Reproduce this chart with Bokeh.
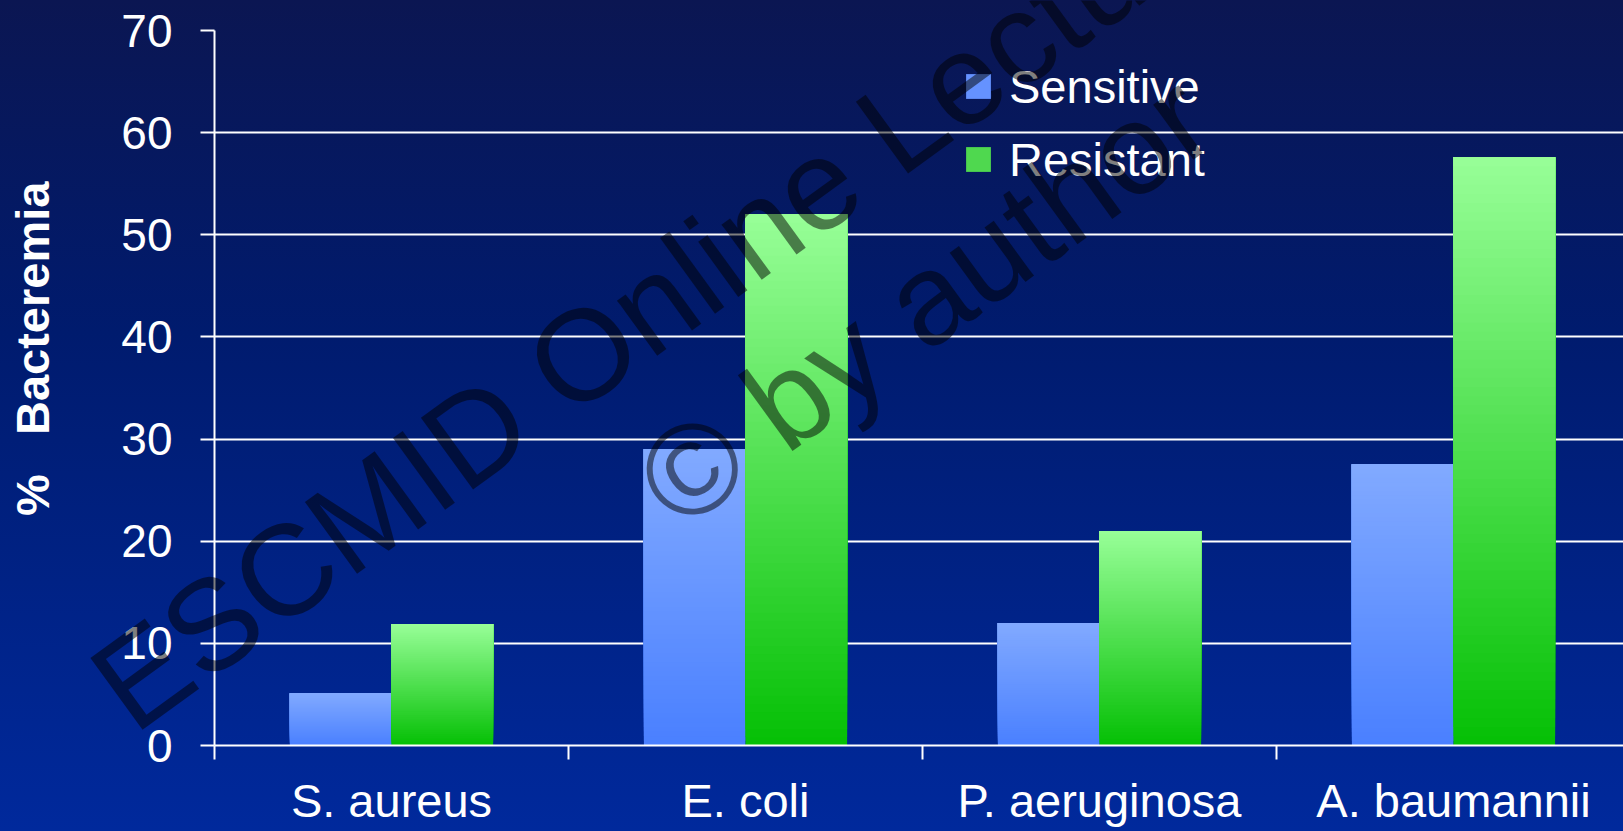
import numpy as np
from bokeh.plotting import figure
from bokeh.layouts import column
from bokeh.models import (Range1d, FixedTicker, Legend, LegendItem, Label,
                          ColumnDataSource)
from bokeh.embed import file_html
from bokeh.resources import INLINE

# ---------------- data ----------------
categories = ["S. aureus", "E. coli", "P. aeruginosa", "A. baumannii"]
series_names = ["Sensitive", "Resistant"]
sensitive = [5.1, 29.0, 12.0, 27.5]
resistant = [11.9, 52.0, 21.0, 57.6]
y_ticks = [0, 10, 20, 30, 40, 50, 60, 70]
y_title = "%\u00a0\u00a0\u00a0Bacteremia"
watermark_lines = ["ESCMID Online Lecture Library", "\u00a9 by author"]

# ---------------- styling ----------------
FONT = "Liberation Sans"
W, H = 1623, 831
LEFT, TOP, BOTTOM = 214, 30, 86
PX_PER_CAT = 354.0
BAR_W = 0.287
BLUE_TOP, BLUE_BOT = (130, 170, 255), (74, 128, 255)
GREEN_TOP, GREEN_BOT = (153, 255, 153), (6, 192, 6)
BG = "linear-gradient(180deg, #0b1652 0%, #001b6e 40%, #00299c 100%)"

x_end = (W - LEFT) / PX_PER_CAT

p = figure(width=W, height=H, output_backend="svg", toolbar_location=None,
           x_range=Range1d(0, x_end), y_range=Range1d(0, 70),
           min_border_left=LEFT, min_border_right=0,
           min_border_top=TOP, min_border_bottom=BOTTOM)
p.background_fill_alpha = 0
p.border_fill_alpha = 0
p.outline_line_color = None
p.styles = {"background": BG}


def gradient_source(vals, offset, top_rgb, bot_rgb, n=64):
    d = dict(left=[], right=[], bottom=[], top=[], color=[])
    for i, v in enumerate(vals):
        c = i + 0.5 + offset
        for k in range(n):
            f = k / n
            rgb = tuple(int(round(b + (t - b) * f)) for t, b in zip(top_rgb, bot_rgb))
            d["left"].append(c - BAR_W / 2)
            d["right"].append(c + BAR_W / 2)
            d["bottom"].append(v * f)
            d["top"].append(v)
            d["color"].append("#%02x%02x%02x" % rgb)
    return ColumnDataSource(d)


p.quad(left="left", right="right", bottom="bottom", top="top",
       fill_color="color", line_color=None,
       source=gradient_source(sensitive, -BAR_W / 2, BLUE_TOP, BLUE_BOT))
p.quad(left="left", right="right", bottom="bottom", top="top",
       fill_color="color", line_color=None,
       source=gradient_source(resistant, BAR_W / 2, GREEN_TOP, GREEN_BOT))

# legend swatches (no visible point of their own; used by the legend)
nan = float("nan")
r_leg_s = p.scatter(x=[nan], y=[nan], marker="square", size=25,
                    fill_color="#6592ff", line_color=None)
r_leg_r = p.scatter(x=[nan], y=[nan], marker="square", size=25,
                    fill_color="#4fd84f", line_color=None)

# ---------------- axes & grid ----------------
xa = p.xaxis[0]
xa.ticker = FixedTicker(ticks=[i + 0.5 for i in range(len(categories))],
                        minor_ticks=list(range(len(categories) + 1)))
xa.major_label_overrides = {i + 0.5: c for i, c in enumerate(categories)}
xa.major_tick_line_color = None
xa.major_tick_out = 0
xa.major_tick_in = 0
xa.minor_tick_out = 14
xa.minor_tick_in = 0
xa.minor_tick_line_color = "white"
xa.minor_tick_line_width = 2
xa.axis_line_color = "white"
xa.axis_line_width = 2
xa.major_label_standoff = 14
xa.major_label_text_font = FONT
xa.major_label_text_font_size = "47px"
xa.major_label_text_color = "white"

ya = p.yaxis[0]
ya.ticker = FixedTicker(ticks=y_ticks)
ya.major_tick_out = 14
ya.major_tick_in = 0
ya.major_tick_line_color = "white"
ya.major_tick_line_width = 2
ya.minor_tick_line_color = None
ya.axis_line_color = "white"
ya.axis_line_width = 2
ya.major_label_standoff = 28
ya.major_label_text_font = FONT
ya.major_label_text_font_size = "46px"
ya.major_label_text_color = "white"
ya.axis_label = "\u00a0" * 6 + y_title
ya.axis_label_text_font = FONT
ya.axis_label_text_font_style = "bold"
ya.axis_label_text_font_size = "47px"
ya.axis_label_text_color = "white"
ya.axis_label_standoff = 59

p.xgrid.grid_line_color = None
p.ygrid.ticker = FixedTicker(ticks=y_ticks)
p.ygrid.grid_line_color = "white"
p.ygrid.grid_line_width = 2

# ---------------- legend ----------------
legend = Legend(items=[LegendItem(label=series_names[0], renderers=[r_leg_s]),
                       LegendItem(label=series_names[1], renderers=[r_leg_r])],
                location=(733, 555), orientation="vertical",
                glyph_width=62, glyph_height=62, label_height=62,
                label_standoff=0, spacing=11, padding=0, margin=0,
                border_line_color=None, background_fill_alpha=0,
                label_text_font=FONT, label_text_font_size="47px",
                label_text_color="white")
p.add_layout(legend)

# ---------------- watermark (transparent overlay spanning the whole page) ----
wm = figure(width=W, height=H, output_backend="svg", toolbar_location=None,
            x_range=Range1d(0, W), y_range=Range1d(0, H),
            x_axis_type=None, y_axis_type=None,
            min_border_left=0, min_border_right=0,
            min_border_top=0, min_border_bottom=0)
wm.grid.visible = False
wm.outline_line_color = None
wm.background_fill_alpha = 0
wm.border_fill_alpha = 0
wm.styles = {"position": "absolute", "top": "0px", "left": "0px",
             "pointer-events": "none"}
if "frame_align" in wm.properties():
    wm.frame_align = False
    wm_dx = 0
else:
    wm_dx = -LEFT

wm_pos = [(107, 132), (653, 335)]
for txt, (sx, sy) in zip(watermark_lines, wm_pos):
    wm.add_layout(Label(x=sx + wm_dx, y=sy, x_units="screen", y_units="screen",
                        text=txt, angle=36, angle_units="deg",
                        text_font=FONT, text_font_size="129px",
                        text_color="black", text_alpha=0.5,
                        text_align="left", text_baseline="alphabetic"))

root = column(p, wm)

tmpl = ("{% block postamble %}<style>html{background:" + BG +
        ";}</style>{% endblock %}")
open("out.html", "w").write(file_html(root, INLINE, template=tmpl))
